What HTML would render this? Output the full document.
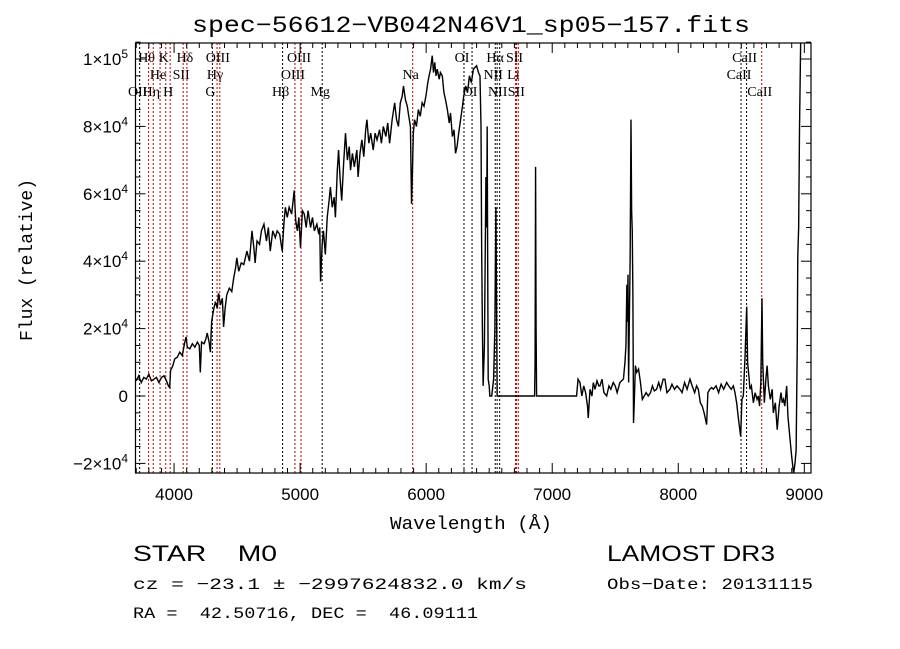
<!DOCTYPE html>
<html><head><meta charset="utf-8"><style>
html,body{margin:0;padding:0;background:#fff;}
svg{display:block;}
text{white-space:pre;}
</style></head><body>
<svg id="chart" width="900" height="649" viewBox="0 0 900 649" xmlns="http://www.w3.org/2000/svg" xml:space="preserve">
<rect x="0" y="0" width="900" height="649" fill="#fff"/>
<text x="471" y="32" font-family="Liberation Mono, monospace" font-size="23" textLength="558" lengthAdjust="spacingAndGlyphs" text-anchor="middle">spec−56612−VB042N46V1_sp05−157.fits</text>
<g id="marks"></g>
<text x="471" y="529" font-family="Liberation Mono, monospace" font-size="18" text-anchor="middle" textLength="162" lengthAdjust="spacingAndGlyphs">Wavelength (Å)</text>
<text transform="translate(32,260) rotate(-90)" font-family="Liberation Mono, monospace" font-size="18" text-anchor="middle" textLength="162" lengthAdjust="spacingAndGlyphs">Flux (relative)</text>
<text x="133" y="561" font-family="Liberation Sans, sans-serif" font-size="22" textLength="144" lengthAdjust="spacingAndGlyphs">STAR    M0</text>
<text x="607" y="561" font-family="Liberation Sans, sans-serif" font-size="22" textLength="168" lengthAdjust="spacingAndGlyphs">LAMOST DR3</text>
<text x="133" y="589" font-family="Liberation Mono, monospace" font-size="16" textLength="394" lengthAdjust="spacingAndGlyphs">cz = −23.1 ± −2997624832.0 km/s</text>
<text x="607" y="589" font-family="Liberation Mono, monospace" font-size="16" textLength="206" lengthAdjust="spacingAndGlyphs">Obs−Date: 20131115</text>
<text x="133" y="618" font-family="Liberation Mono, monospace" font-size="16" textLength="345" lengthAdjust="spacingAndGlyphs">RA =  42.50716, DEC =  46.09111</text>
</svg>
<script>
const wavelengths = [3700,3720,3740,3760,3780,3800,3820,3840,3860,3880,3900,3920,3940,3955,3965,3972,3990,4005,4025,4045,4065,4085,4095,4105,4125,4145,4165,4185,4200,4208,4218,4238,4253,4263,4278,4288,4298,4313,4328,4343,4353,4368,4383,4393,4405,4418,4438,4458,4473,4488,4498,4513,4533,4553,4578,4598,4618,4633,4643,4658,4678,4693,4713,4733,4748,4763,4783,4803,4818,4838,4858,4873,4883,4898,4913,4933,4953,4965,4978,4990,5003,5018,5033,5048,5063,5083,5098,5113,5133,5148,5156,5162,5175,5185,5200,5215,5230,5240,5255,5270,5280,5295,5305,5318,5330,5345,5360,5375,5390,5400,5415,5430,5450,5460,5475,5490,5505,5520,5530,5545,5560,5580,5595,5610,5630,5645,5660,5680,5695,5710,5730,5750,5765,5780,5795,5810,5820,5835,5850,5862,5875,5884,5890,5898,5908,5923,5938,5953,5968,5983,5998,6013,6023,6035,6048,6058,6068,6078,6088,6103,6113,6128,6141,6153,6168,6183,6193,6208,6221,6233,6245,6258,6273,6288,6298,6313,6328,6343,6358,6375,6400,6415,6427,6435,6440,6446,6452,6462,6468,6474,6480,6484,6488,6492,6500,6505,6520,6535,6545,6553,6558,6563,6600,6860,6864,6868,6872,6876,7193,7205,7220,7235,7250,7265,7280,7286,7300,7315,7326,7340,7355,7370,7379,7395,7410,7432,7450,7465,7484,7500,7515,7537,7550,7565,7577,7585,7592,7596,7601,7606,7611,7618,7625,7630,7635,7640,7645,7650,7660,7670,7685,7700,7715,7730,7745,7762,7780,7795,7810,7828,7845,7860,7880,7894,7910,7934,7950,7970,7990,8013,8030,8050,8070,8093,8110,8130,8145,8159,8175,8190,8205,8225,8235,8250,8265,8278,8300,8320,8340,8360,8384,8400,8420,8437,8450,8463,8475,8485,8495,8505,8516,8530,8543,8550,8560,8569,8580,8596,8610,8625,8635,8645,8655,8664,8670,8683,8695,8705,8715,8730,8745,8754,8770,8785,8800,8815,8825,8835,8845,8860,8870,8887,8900,8915,8926,8935,8944,8948,8955,8962,8966,8972];
const fluxValues = [0.45,0.6,0.4,0.55,0.5,0.65,0.45,0.5,0.55,0.4,0.55,0.6,0.45,0.3,0.25,0.75,0.9,1.1,1.15,1.3,1.2,1.6,1.75,1.45,1.4,1.55,1.45,1.6,1.5,0.7,1.6,1.55,1.7,1.87,1.6,1.3,2.2,2.55,2.8,2.6,3.05,2.7,2.9,2.05,2.6,3.0,3.2,3.1,3.5,3.8,4.1,3.7,3.95,3.9,4.3,4.0,4.9,4.4,3.95,4.6,4.5,4.9,5.1,4.6,5.0,4.3,4.9,4.7,4.9,4.8,4.3,5.2,5.6,5.3,5.6,5.4,6.1,5.2,4.9,5.3,4.4,5.5,5.4,5.0,5.5,5.0,5.3,4.9,5.1,4.8,5.0,3.4,4.5,4.9,4.2,5.3,5.8,6.2,5.6,5.9,5.3,6.7,7.3,6.4,5.8,6.9,7.8,7.0,7.4,6.7,7.2,6.8,7.3,6.5,7.2,7.6,7.1,7.9,8.2,7.5,7.8,7.3,7.8,7.6,7.9,7.5,8.0,7.7,8.1,7.5,8.2,8.7,8.2,8.0,8.7,8.9,9.2,8.8,8.6,8.3,8.0,5.7,6.5,7.8,8.2,8.0,8.5,8.3,8.7,8.6,8.9,9.3,9.5,9.7,10.1,9.6,9.9,9.5,9.7,9.4,9.6,9.5,9.0,8.8,8.5,8.1,8.4,7.7,7.9,7.2,7.4,7.8,8.2,8.6,8.9,9.2,9.0,9.5,9.3,9.7,9.8,9.6,9.5,8.0,4.5,2.0,0.3,1.5,4.0,6.5,5.0,8.0,4.0,0.5,0.3,0.0,0.0,0.5,2.0,5.6,3.0,0.0,0,0,1.0,6.8,2.0,0,0,0.5,0.4,0.0,0.3,0.1,-0.3,-0.65,0.2,0.0,0.4,0.2,0.45,0.3,0.3,0.5,0.1,0,0.3,0.2,0.4,0.3,0.1,0.4,0.45,0.5,1.0,1.5,3.3,2.2,3.6,0.4,2.0,4.0,8.2,5.5,4.9,3.0,-0.8,-0.3,0.9,0.7,0.8,0.4,-0.1,0.0,0.1,0,0.1,0.3,0.15,0.2,0.4,0.2,0.5,0.5,0.1,0.2,0.35,0.2,0.3,0.2,0.1,0.4,0.2,0.5,0.3,0.1,0.3,0.2,-0.2,-0.3,-0.5,-0.85,0.1,0.2,0.25,0.2,0.3,0.1,0.35,0.2,0.4,0.3,0.2,0.3,0.1,-0.2,-0.6,-0.9,-1.2,-0.1,0.0,1.2,2.65,1.0,0.6,0.2,0.3,-0.2,0.1,-0.1,0.0,-0.3,0.4,2.9,1.0,-0.2,0.5,0.9,0.3,-0.1,0.2,-0.5,-0.2,-1.0,-0.3,0.1,-0.2,-0.1,-0.3,0.3,-0.6,-1.3,-1.8,-2.3,-2.0,-1.6,1.5,4.1,5.0,8.0,9.1,10.8];
const fluxScale = 1e4;
const lineWavelengths = [3727,3798,3835,3889,3934,3969,4072,4102,4304,4341,4363,4861,4959,5007,5175,5893,6300,6364,6548,6563,6583,6708,6717,6731,8498,8542,8662];
const lineColors = ['#000','#b00','#b00','#b00','#b00','#b00','#b00','#b00','#000','#b00','#b00','#000','#b00','#b00','#000','#b00','#000','#000','#000','#000','#000','#b00','#b00','#b00','#000','#000','#b00'];
const lineLabels = ['OII','Hθ','Hη','He','K','H','SII','Hδ','G','Hγ','OIII','Hβ','OIII','OIII','Mg','Na','OI','OI','NII','Hα','NII','Li','SII','SII','CaII','CaII','CaII'];
const labelRows = [2,0,2,1,0,2,1,0,2,1,0,2,1,0,2,1,0,2,1,0,2,1,0,2,1,0,2];
const xTickValues = [4000,5000,6000,7000,8000,9000];
const xTickLabels = ['4000','5000','6000','7000','8000','9000'];
const yTickValues = [-2e4,0,2e4,4e4,6e4,8e4,1e5];
const yTickMant = ['−2','','2','4','6','8','1'];
const yTickExp = ['4','','4','4','4','4','5'];

const X0=135.5, X1=811, Y0=43, Y1=473;
const WMIN=3694, WMAX=9053;
function xs(w){return X0+(w-WMIN)/(WMAX-WMIN)*(X1-X0);}
function ys(v){return 396 - v/2e4*67.4;}
const NS='http://www.w3.org/2000/svg';
const g=document.getElementById('marks');
function mk(t,a,p){const e=document.createElementNS(NS,t);for(const k in a)e.setAttribute(k,a[k]);(p||g).appendChild(e);return e;}

const defs=mk('defs',{});
const cp=mk('clipPath',{id:'plotclip'},defs);
mk('rect',{x:X0,y:Y0,width:X1-X0,height:Y1-Y0},cp);

for(let i=0;i<lineWavelengths.length;i++){
  const x=xs(lineWavelengths[i]);
  const l=mk('line',{x1:x,x2:x,y1:Y0,y2:Y1,stroke:lineColors[i],'stroke-width':1,'stroke-dasharray':'2,2'});
  
  
  const t=mk('text',{x:x-2,y:62+labelRows[i]*17,'font-family':'Liberation Serif, serif','font-size':14,'text-anchor':'middle',fill:'#000'});
  t.textContent=lineLabels[i];
  
  
}

let d='';
for(let i=0;i<wavelengths.length;i++){d+=(i?'L':'M')+xs(wavelengths[i]).toFixed(2)+','+ys(fluxValues[i]*fluxScale).toFixed(2);}
const sp=mk('path',{d:d,fill:'none',stroke:'#000','stroke-width':1.4,'stroke-linejoin':'miter','clip-path':'url(#plotclip)'});



const fr=mk('rect',{x:X0,y:Y0,width:X1-X0,height:Y1-Y0,fill:'none',stroke:'#000','stroke-width':1.2});



for(let w=3700;w<=WMAX;w+=100){
  const x=xs(w), major=(w%1000===0), L=major?10:5;
  mk('line',{x1:x,x2:x,y1:Y1,y2:Y1-L,stroke:'#000','stroke-width':1});
  mk('line',{x1:x,x2:x,y1:Y0,y2:Y0+L,stroke:'#000','stroke-width':1});
}
for(let i=0;i<xTickValues.length;i++){
  const t=mk('text',{x:xs(xTickValues[i]),y:500,'font-family':'Liberation Sans, sans-serif','font-size':17,'text-anchor':'middle'});
  t.textContent=xTickLabels[i];
  
  
}
for(let v=-2e4;v<=1.05e5;v+=5e3){
  const y=ys(v), major=(Math.round(v)%20000===0), L=major?10:5;
  mk('line',{x1:X0,x2:X0+L,y1:y,y2:y,stroke:'#000','stroke-width':1});
  mk('line',{x1:X1,x2:X1-L,y1:y,y2:y,stroke:'#000','stroke-width':1});
}
for(let i=0;i<yTickValues.length;i++){
  const y=ys(yTickValues[i])+6;
  const t=mk('text',{x:128,y:y,'font-family':'Liberation Sans, sans-serif','font-size':17,'text-anchor':'end'});
  if(yTickExp[i]===''){t.textContent='0';}
  else{
    t.appendChild(document.createTextNode(yTickMant[i]+'×10'));
    const s=mk('tspan',{'font-size':12,dy:-7},t);s.textContent=yTickExp[i];
  }
  
  
}
</script>
</body></html>
